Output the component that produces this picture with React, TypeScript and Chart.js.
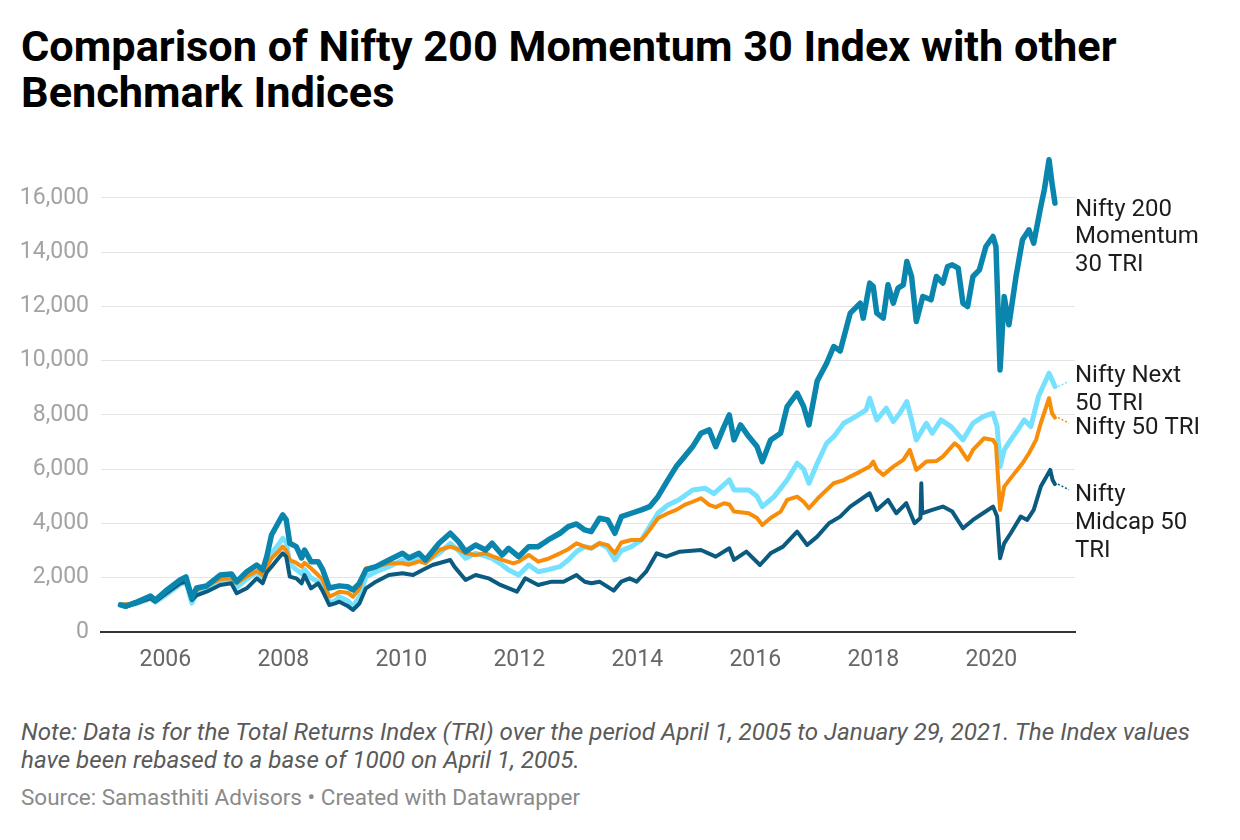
import React, { useEffect, useRef } from "react";
import { Chart, registerables } from "chart.js";

Chart.register(...registerables);

// ---------- DATA (decimal year, index value) ----------
const momentumSeries: [number, number][] = [
  [2005.24, 1000], [2005.33, 950], [2005.49, 1080], [2005.75, 1327], [2005.83, 1180], [2006.0, 1500],
  [2006.25, 1917], [2006.35, 2028], [2006.45, 1253], [2006.53, 1622], [2006.7, 1696], [2006.93, 2100],
  [2007.12, 2140], [2007.21, 1855], [2007.38, 2223], [2007.55, 2470], [2007.65, 2286], [2007.72, 2777],
  [2007.8, 3576], [2007.91, 4007], [2007.99, 4314], [2008.05, 4130], [2008.11, 3270], [2008.22, 3146],
  [2008.31, 2728], [2008.36, 3023], [2008.47, 2592], [2008.59, 2592], [2008.67, 2286], [2008.78, 1622],
  [2008.95, 1700], [2009.09, 1671], [2009.18, 1549], [2009.29, 1794], [2009.4, 2286], [2009.57, 2408],
  [2009.79, 2655], [2010.02, 2900], [2010.13, 2728], [2010.3, 2900], [2010.41, 2655], [2010.64, 3270],
  [2010.83, 3639], [2010.97, 3330], [2011.09, 2961], [2011.26, 3208], [2011.43, 3023], [2011.54, 3270],
  [2011.71, 2839], [2011.82, 3085], [2011.99, 2777], [2012.16, 3146], [2012.32, 3146], [2012.49, 3392],
  [2012.69, 3639], [2012.83, 3883], [2012.97, 3982], [2013.11, 3761], [2013.22, 3698], [2013.36, 4192],
  [2013.5, 4130], [2013.62, 3639], [2013.73, 4251], [2013.9, 4376], [2014.07, 4500], [2014.21, 4620],
  [2014.35, 4988], [2014.52, 5604], [2014.66, 6095], [2014.8, 6463], [2014.94, 6832], [2015.08, 7326],
  [2015.22, 7448], [2015.33, 6832], [2015.47, 7570], [2015.56, 8001], [2015.64, 7079], [2015.75, 7632],
  [2015.89, 7203], [2016.03, 6832], [2016.12, 6279], [2016.26, 7079], [2016.43, 7326], [2016.54, 8308],
  [2016.71, 8800], [2016.82, 8308], [2016.91, 7632], [2017.05, 9250], [2017.21, 9906], [2017.33, 10520],
  [2017.44, 10356], [2017.61, 11750], [2017.78, 12119], [2017.83, 11566], [2017.94, 12856], [2018.0, 12733],
  [2018.06, 11750], [2018.17, 11566], [2018.25, 12794], [2018.34, 12119], [2018.42, 12672], [2018.51, 12794],
  [2018.57, 13654], [2018.65, 13101], [2018.73, 11443], [2018.84, 12365], [2018.98, 12242], [2019.07, 13101],
  [2019.18, 12856], [2019.26, 13469], [2019.34, 13531], [2019.44, 13407], [2019.52, 12119], [2019.6, 11996],
  [2019.69, 13101], [2019.8, 13347], [2019.91, 14206], [2020.03, 14575], [2020.08, 14206], [2020.15, 9660],
  [2020.22, 12365], [2020.3, 11320], [2020.42, 13101], [2020.53, 14453], [2020.64, 14822], [2020.72, 14330],
  [2020.84, 15681], [2020.9, 16297], [2020.98, 17403], [2021.03, 16543], [2021.08, 15806],
];

const nifty50Series: [number, number][] = [
  [2005.24, 1000], [2005.49, 1050], [2005.75, 1250], [2005.83, 1150], [2006.0, 1400], [2006.25, 1800],
  [2006.35, 1900], [2006.45, 1300], [2006.53, 1550], [2006.7, 1700], [2006.93, 1950], [2007.12, 1980],
  [2007.21, 1800], [2007.38, 2050], [2007.55, 2250], [2007.65, 2100], [2007.72, 2400], [2007.8, 2716],
  [2007.91, 2950], [2007.99, 3146], [2008.05, 3000], [2008.11, 2655], [2008.22, 2550], [2008.31, 2408],
  [2008.36, 2550], [2008.47, 2349], [2008.59, 2100], [2008.67, 1917], [2008.78, 1302], [2008.88, 1400],
  [2008.95, 1486], [2009.09, 1450], [2009.18, 1302], [2009.29, 1600], [2009.4, 2349], [2009.57, 2408],
  [2009.79, 2532], [2010.02, 2532], [2010.13, 2480], [2010.3, 2600], [2010.41, 2532], [2010.64, 3023],
  [2010.83, 3146], [2010.97, 3050], [2011.09, 2900], [2011.26, 2839], [2011.43, 2900], [2011.54, 2800],
  [2011.71, 2655], [2011.9, 2532], [2011.99, 2592], [2012.16, 2839], [2012.32, 2592], [2012.49, 2700],
  [2012.69, 2900], [2012.83, 3050], [2012.97, 3270], [2013.11, 3146], [2013.22, 3085], [2013.36, 3270],
  [2013.5, 3200], [2013.62, 2900], [2013.73, 3300], [2013.9, 3392], [2014.07, 3392], [2014.21, 3761],
  [2014.35, 4192], [2014.52, 4376], [2014.66, 4500], [2014.8, 4683], [2014.94, 4800], [2015.08, 4929],
  [2015.22, 4683], [2015.33, 4600], [2015.47, 4745], [2015.56, 4700], [2015.64, 4437], [2015.89, 4376],
  [2016.03, 4200], [2016.12, 3945], [2016.26, 4200], [2016.43, 4437], [2016.54, 4867], [2016.71, 4988],
  [2016.82, 4800], [2016.91, 4561], [2017.05, 4900], [2017.21, 5236], [2017.33, 5482], [2017.5, 5600],
  [2017.61, 5727], [2017.78, 5911], [2017.94, 6100], [2018.0, 6280], [2018.06, 6000], [2018.17, 5788],
  [2018.34, 6095], [2018.51, 6341], [2018.62, 6710], [2018.73, 5972], [2018.9, 6280], [2019.07, 6300],
  [2019.18, 6464], [2019.38, 6955], [2019.45, 6832], [2019.6, 6341], [2019.69, 6710], [2019.88, 7140],
  [2020.03, 7079], [2020.08, 6900], [2020.15, 4500], [2020.22, 5358], [2020.35, 5727], [2020.53, 6218],
  [2020.64, 6587], [2020.76, 7079], [2020.84, 7693], [2020.98, 8615], [2021.03, 8062], [2021.08, 7900],
];

const next50Series: [number, number][] = [
  [2005.24, 1000], [2005.49, 1030], [2005.75, 1230], [2005.83, 1100], [2006.0, 1350], [2006.25, 1750],
  [2006.35, 1850], [2006.45, 1070], [2006.53, 1450], [2006.7, 1600], [2006.93, 1850], [2007.12, 1900],
  [2007.21, 1650], [2007.38, 1950], [2007.55, 2200], [2007.65, 2000], [2007.72, 2500], [2007.8, 2900],
  [2007.91, 3200], [2007.99, 3450], [2008.05, 3300], [2008.11, 2500], [2008.22, 2300], [2008.31, 2150],
  [2008.36, 2300], [2008.47, 2000], [2008.59, 1850], [2008.67, 1700], [2008.78, 1070], [2008.88, 1150],
  [2008.95, 1302], [2009.09, 1150], [2009.18, 933], [2009.29, 1300], [2009.4, 2039], [2009.57, 2223],
  [2009.79, 2408], [2010.02, 2655], [2010.13, 2550], [2010.3, 2700], [2010.41, 2592], [2010.64, 2900],
  [2010.83, 3270], [2010.97, 3000], [2011.09, 2716], [2011.26, 2900], [2011.43, 2800], [2011.54, 2716],
  [2011.71, 2470], [2011.82, 2286], [2011.99, 2102], [2012.16, 2470], [2012.32, 2223], [2012.49, 2300],
  [2012.69, 2408], [2012.83, 2655], [2012.97, 2961], [2013.11, 3146], [2013.22, 3085], [2013.36, 3270],
  [2013.5, 3100], [2013.62, 2655], [2013.73, 3000], [2013.9, 3146], [2014.07, 3392], [2014.21, 3883],
  [2014.35, 4376], [2014.52, 4683], [2014.7, 4867], [2014.94, 5236], [2015.15, 5298], [2015.3, 5100],
  [2015.56, 5604], [2015.64, 5236], [2015.89, 5236], [2016.03, 5000], [2016.12, 4620], [2016.32, 4988],
  [2016.54, 5604], [2016.71, 6220], [2016.82, 6000], [2016.91, 5482], [2017.05, 6220], [2017.21, 6955],
  [2017.33, 7200], [2017.5, 7693], [2017.7, 7939], [2017.88, 8185], [2017.94, 8615], [2018.06, 7816],
  [2018.22, 8246], [2018.34, 7755], [2018.45, 8062], [2018.57, 8492], [2018.65, 7816], [2018.73, 7079],
  [2018.9, 7693], [2019.0, 7325], [2019.15, 7816], [2019.32, 7571], [2019.52, 7079], [2019.69, 7693],
  [2019.86, 7939], [2020.03, 8062], [2020.1, 7571], [2020.15, 6095], [2020.22, 6710], [2020.33, 7079],
  [2020.45, 7448], [2020.56, 7816], [2020.67, 7571], [2020.8, 8676], [2020.98, 9537], [2021.03, 9300],
  [2021.08, 9045],
];

const midcapSeries: [number, number][] = [
  [2005.24, 1000], [2005.33, 930], [2005.49, 1050], [2005.75, 1250], [2005.83, 1120], [2006.0, 1400],
  [2006.25, 1794], [2006.35, 1855], [2006.45, 1180], [2006.53, 1350], [2006.7, 1486], [2006.93, 1733],
  [2007.12, 1794], [2007.21, 1425], [2007.38, 1610], [2007.55, 1978], [2007.65, 1794], [2007.72, 2200],
  [2007.8, 2408], [2007.91, 2700], [2007.99, 2900], [2008.05, 2777], [2008.11, 2039], [2008.22, 1978],
  [2008.31, 1794], [2008.36, 2100], [2008.47, 1610], [2008.59, 1794], [2008.67, 1500], [2008.78, 995],
  [2008.88, 1056], [2008.95, 1117], [2009.09, 960], [2009.18, 811], [2009.29, 1050], [2009.4, 1610],
  [2009.57, 1855], [2009.79, 2102], [2010.02, 2163], [2010.2, 2102], [2010.36, 2286], [2010.53, 2470],
  [2010.83, 2655], [2010.9, 2408], [2011.09, 1917], [2011.26, 2102], [2011.48, 1978], [2011.68, 1733],
  [2011.96, 1486], [2012.1, 1978], [2012.32, 1733], [2012.55, 1855], [2012.75, 1855], [2012.97, 2102],
  [2013.0, 2039], [2013.11, 1850], [2013.22, 1794], [2013.36, 1855], [2013.6, 1524], [2013.73, 1855],
  [2013.87, 1978], [2013.99, 1855], [2014.15, 2223], [2014.33, 2900], [2014.49, 2777], [2014.72, 2961],
  [2015.08, 3023], [2015.33, 2777], [2015.56, 3085], [2015.64, 2655], [2015.85, 2961], [2016.08, 2470],
  [2016.26, 2900], [2016.47, 3146], [2016.71, 3698], [2016.88, 3208], [2017.05, 3514], [2017.25, 4007],
  [2017.44, 4253], [2017.61, 4622], [2017.94, 5113], [2018.06, 4500], [2018.25, 4868], [2018.39, 4376],
  [2018.56, 4745], [2018.7, 4007], [2018.8, 4200], [2018.815, 5482], [2018.83, 4376], [2019.0, 4500],
  [2019.18, 4622], [2019.34, 4438], [2019.52, 3822], [2019.69, 4130], [2019.86, 4376], [2020.03, 4622],
  [2020.1, 4253], [2020.15, 2716], [2020.22, 3269], [2020.33, 3638], [2020.5, 4253], [2020.61, 4130],
  [2020.72, 4500], [2020.84, 5359], [2021.0, 5974], [2021.04, 5605], [2021.08, 5450],
];

const seriesNames = [
  "Nifty 200 Momentum 30 TRI",
  "Nifty Midcap 50 TRI",
  "Nifty 50 TRI",
  "Nifty Next 50 TRI",
];
const seriesData = [momentumSeries, midcapSeries, nifty50Series, next50Series];
const seriesColors = ["#0a85ad", "#0b5a80", "#f78d09", "#76e0ff"];
const seriesWidths = [5.5, 4, 4, 5];
const labelLines = [
  ["Nifty 200", "Momentum", "30 TRI"],
  ["Nifty", "Midcap 50", "TRI"],
  ["Nifty 50 TRI"],
  ["Nifty Next", "50 TRI"],
];
// value (on the y axis) at which each label block is centred
const labelAnchors = [14550, 4020, 7500, 8920];
const labelLeaders = [false, true, true, true];

const yTicks = [0, 2000, 4000, 6000, 8000, 10000, 12000, 14000, 16000];
const xTicks = [2006, 2008, 2010, 2012, 2014, 2016, 2018, 2020];
const xMin = 2004.91;
const xMax = 2021.42;
const yMax = 17800;

const titleText = "Comparison of Nifty 200 Momentum 30 Index with other Benchmark Indices";
const noteText =
  "Note: Data is for the Total Returns Index (TRI) over the period April 1, 2005 to January 29, 2021. The Index values have been rebased to a base of 1000 on April 1, 2005.";
const sourceText = "Source: Samasthiti Advisors • Created with Datawrapper";

const FONT = "Roboto, 'Noto Sans', sans-serif";

const labelPlugin = {
  id: "lineLabels",
  afterDatasetsDraw(chart: any) {
    const { ctx, chartArea, scales } = chart;
    const y = scales.y;
    ctx.save();
    ctx.font = `24px ${FONT}`;
    ctx.fillStyle = "#1d1d1d";
    ctx.textBaseline = "middle";
    ctx.textAlign = "left";
    const lh = 27.6;
    chart.data.datasets.forEach((_ds: any, i: number) => {
      const lines = labelLines[i];
      const cy = y.getPixelForValue(labelAnchors[i]);
      const top = cy - ((lines.length - 1) * lh) / 2;
      lines.forEach((t, k) => ctx.fillText(t, chartArea.right, top + k * lh));
      if (labelLeaders[i]) {
        const meta = chart.getDatasetMeta(i);
        const last = meta.data[meta.data.length - 1];
        if (last) {
          ctx.save();
          ctx.strokeStyle = seriesColors[i];
          ctx.lineWidth = 1.5;
          ctx.setLineDash([2, 2]);
          ctx.beginPath();
          ctx.moveTo(last.x + 3, last.y);
          ctx.lineTo(chartArea.right - 6, (last.y + top) / 2);
          ctx.stroke();
          ctx.restore();
        }
      }
    });
    ctx.restore();
  },
};

export default function App() {
  const canvasRef = useRef<HTMLCanvasElement | null>(null);

  useEffect(() => {
    if (!canvasRef.current) return;
    const chart = new Chart(canvasRef.current, {
      type: "line",
      data: {
        datasets: seriesData.map((s, i) => ({
          label: seriesNames[i],
          data: s.map(([x, y]) => ({ x, y })),
          borderColor: seriesColors[i],
          backgroundColor: seriesColors[i],
          borderWidth: seriesWidths[i],
          pointRadius: 0,
          tension: 0,
          borderJoinStyle: "round" as const,
          borderCapStyle: "round" as const,
          order: i,
          clip: false as any,
        })),
      },
      options: {
        animation: false,
        responsive: false,
        layout: { padding: { left: 0, right: 165, top: 9, bottom: 0 } },
        plugins: {
          legend: { display: false },
          tooltip: { enabled: false },
        },
        scales: {
          x: {
            type: "linear",
            min: xMin,
            max: xMax,
            afterBuildTicks: (scale: any) => {
              scale.ticks = xTicks.map((v) => ({ value: v }));
            },
            afterFit: (scale: any) => {
              scale.height = 68;
              scale.paddingLeft = 0;
              scale.paddingRight = 0;
              scale.paddingTop = 0;
              scale.paddingBottom = 0;
            },
            grid: { display: false, drawTicks: false },
            border: { display: true, color: "#333333", width: 2 },
            ticks: {
              padding: 14,
              color: "#666666",
              font: { family: FONT, size: 23 },
              maxRotation: 0,
              autoSkip: false,
              callback: (v: any) => String(v),
            },
          },
          y: {
            type: "linear",
            min: 0,
            max: yMax,
            afterBuildTicks: (scale: any) => {
              scale.ticks = yTicks.map((v) => ({ value: v }));
            },
            afterFit: (scale: any) => {
              scale.width = 101;
              scale.paddingTop = 0;
              scale.paddingBottom = 0;
              scale.paddingLeft = 0;
              scale.paddingRight = 0;
            },
            grid: { color: "#e4e4e4", lineWidth: 1, drawTicks: false },
            border: { display: false },
            ticks: {
              padding: 12,
              color: "#a3a3a3",
              font: { family: FONT, size: 23 },
              callback: (v: any) => Number(v).toLocaleString("en-US"),
            },
          },
        },
      },
      plugins: [labelPlugin],
    });
    return () => chart.destroy();
  }, []);

  return (
    <div
      style={{
        position: "absolute",
        left: 0,
        top: 0,
        width: 1240,
        height: 840,
        background: "#ffffff",
        fontFamily: FONT,
        overflow: "hidden",
      }}
    >
      <div
        style={{
          position: "absolute",
          left: 21,
          top: 24,
          width: 1160,
          fontSize: 43.3,
          fontWeight: 700,
          lineHeight: "46px",
          color: "#000000",
        }}
      >
        {titleText}
      </div>
      <canvas
        ref={canvasRef}
        width={1240}
        height={560}
        style={{ position: "absolute", left: 0, top: 140, width: 1240, height: 560 }}
      />
      <div
        style={{
          position: "absolute",
          left: 21,
          top: 718,
          width: 1190,
          fontSize: 24.2,
          fontStyle: "italic",
          lineHeight: "28px",
          color: "#5a5a5a",
        }}
      >
        {noteText}
      </div>
      <div
        style={{
          position: "absolute",
          left: 21,
          top: 784,
          fontSize: 22.5,
          lineHeight: "26px",
          color: "#8a8a8a",
        }}
      >
        {sourceText}
      </div>
    </div>
  );
}
